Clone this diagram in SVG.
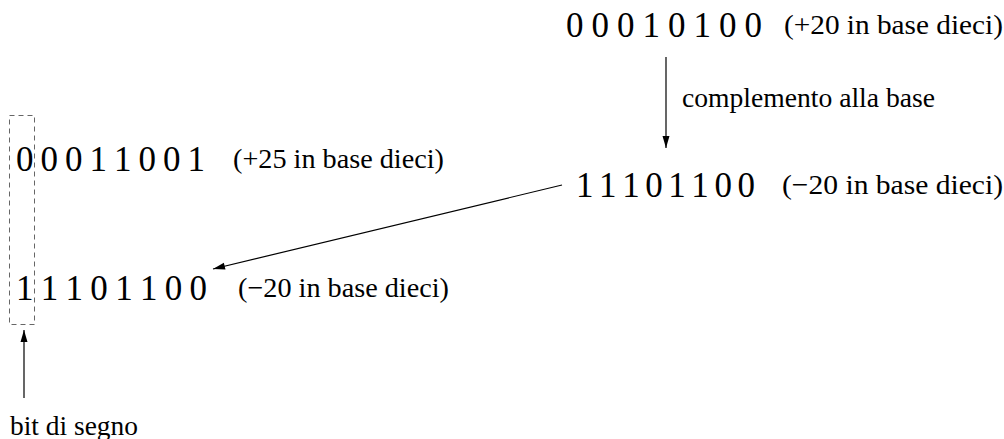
<svg xmlns="http://www.w3.org/2000/svg" width="1004" height="439" viewBox="0 0 1004 439">
  <style>
    text { font-family: "Liberation Serif", "Times New Roman", serif; fill: #000; }
    .bits { font-size: 35px; }
    .lbl { font-size: 28px; }
    .edge { stroke: #000; stroke-width: 1.2; fill: none; }
  </style>
  <defs>
    <marker id="arrow" viewBox="0 0 12 8" refX="12" refY="4" markerWidth="13" markerHeight="8" markerUnits="userSpaceOnUse" orient="auto">
      <path d="M0,0.5 L12,4 L0,7.5 Z" fill="#000"/>
    </marker>
  </defs>

  <!-- positive value and its complement -->
  <g id="n_pos20">
    <text class="bits" x="566" y="37" textLength="196" lengthAdjust="spacing">0 0 0 1 0 1 0 0</text>
    <text class="lbl" x="784" y="34" textLength="219" lengthAdjust="spacingAndGlyphs">(+20 in base dieci)</text>
  </g>
  <g id="n_neg20">
    <text class="bits" x="576" y="197" textLength="179" lengthAdjust="spacing">1 1 1 0 1 1 0 0</text>
    <text class="lbl" x="782" y="194" textLength="221" lengthAdjust="spacingAndGlyphs">(−20 in base dieci)</text>
  </g>

  <!-- left column: sum operands -->
  <g id="n_pos25">
    <text class="bits" x="16" y="171" textLength="189" lengthAdjust="spacing">0 0 0 1 1 0 0 1</text>
    <text class="lbl" x="233" y="168" textLength="211" lengthAdjust="spacingAndGlyphs">(+25 in base dieci)</text>
  </g>
  <g id="n_neg20_copy">
    <text class="bits" x="16" y="300" textLength="191" lengthAdjust="spacing">1 1 1 0 1 1 0 0</text>
    <text class="lbl" x="238" y="297" textLength="211" lengthAdjust="spacingAndGlyphs">(−20 in base dieci)</text>
  </g>

  <!-- sign bit column -->
  <g id="n_sign">
    <rect x="9.5" y="115.5" width="25" height="209" fill="none" stroke="#666" stroke-width="1" stroke-dasharray="5,4"/>
    <text class="lbl" x="10" y="435" textLength="128" lengthAdjust="spacingAndGlyphs">bit di segno</text>
  </g>

  <g id="connectors">
    <line class="edge" x1="666" y1="57" x2="666" y2="148" marker-end="url(#arrow)"/>
    <text class="lbl" x="682" y="107" textLength="253" lengthAdjust="spacingAndGlyphs">complemento alla base</text>
    <line class="edge" x1="562" y1="185" x2="213" y2="269" marker-end="url(#arrow)"/>
    <line class="edge" x1="24" y1="398" x2="24" y2="330" marker-end="url(#arrow)"/>
  </g>
</svg>
